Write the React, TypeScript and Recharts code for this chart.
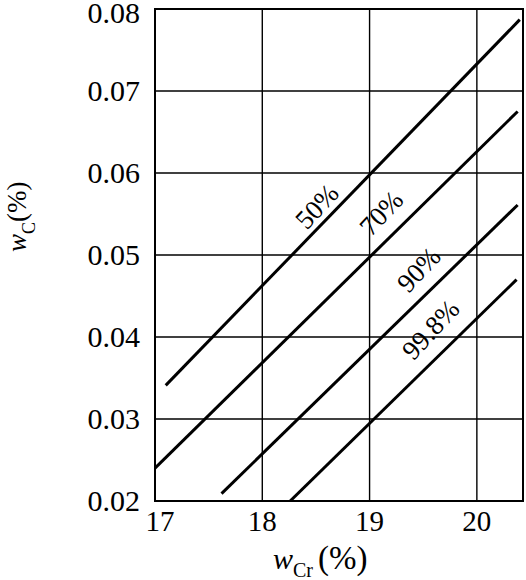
import { LineChart, Line, XAxis, YAxis, CartesianGrid, ReferenceArea, ReferenceDot } from "recharts";

const xTicks = [17, 18, 19, 20];
const yTicks = [0.02, 0.03, 0.04, 0.05, 0.06, 0.07, 0.08];

// each curve: start and end point (w_Cr %, w_C %)
const curve50 = [
  { x: 17.1, y: 0.0341 },
  { x: 20.4, y: 0.0787 },
];
const curve70 = [
  { x: 17.0, y: 0.024 },
  { x: 20.38, y: 0.0675 },
];
const curve90 = [
  { x: 17.62, y: 0.0209 },
  { x: 20.38, y: 0.0561 },
];
const curve998 = [
  { x: 18.26, y: 0.02 },
  { x: 20.37, y: 0.047 },
];

const curveNames = ["50%", "70%", "90%", "99.8%"];
const labelX = [18.51, 19.11, 19.46, 19.57];
const labelY = [0.0559, 0.0551, 0.0482, 0.0409];

const FAMILY = "'Liberation Serif', 'Times New Roman', 'DejaVu Serif', serif";
const font = (size: number, italic = false) => ({
  fontFamily: FAMILY,
  fontSize: `${size}px`,
  fontStyle: italic ? "italic" : "normal",
});

const XTick = (props: any) => {
  const { x, y, payload } = props;
  const shift = payload.value === 17 ? 5 : 0;
  return (
    <text x={x + shift} y={y} dy={22} textAnchor="middle" style={font(29)} fill="#000">
      {payload.value}
    </text>
  );
};

const YTick = (props: any) => {
  const { x, y, payload } = props;
  // keep the top label just inside the picture
  const dy = payload.value >= 0.08 ? 14 : 10;
  return (
    <text x={x + 1} y={y} dy={dy} textAnchor="end" style={font(30)} fill="#000">
      {Number(payload.value).toFixed(2)}
    </text>
  );
};

const CurveLabel = (text: string) => (props: any) => {
  const { cx, cy } = props;
  return (
    <text
      x={cx}
      y={cy}
      dy={9}
      textAnchor="middle"
      style={font(27)}
      fill="#000"
      transform={`rotate(-47 ${cx} ${cy})`}
    >
      {text}
    </text>
  );
};

export default function App() {
  const curves = [curve50, curve70, curve90, curve998];
  return (
    <div style={{ position: "absolute", left: 0, top: 0, background: "#fff" }}>
      <LineChart width={526} height={580} margin={{ top: 9, right: 3, left: 0, bottom: 0 }}>
        <CartesianGrid stroke="#000" strokeWidth={1.4} />
        <XAxis
          type="number"
          dataKey="x"
          domain={[17, 20.43]}
          ticks={xTicks}
          allowDataOverflow
          height={79}
          tickLine={false}
          axisLine={false}
          tick={<XTick />}
          label={{
            content: () => (
              <text x={273} y={569} fill="#000" style={font(30)}>
                <tspan style={font(30, true)}>w</tspan>
                <tspan style={font(20)} dy={8}>Cr</tspan>
                <tspan style={font(33)} dy={-8} dx={5}>(%)</tspan>
              </text>
            ),
          }}
        />
        <YAxis
          type="number"
          dataKey="y"
          domain={[0.02, 0.08]}
          ticks={yTicks}
          allowDataOverflow
          width={155}
          tickLine={false}
          axisLine={false}
          tickMargin={10}
          tick={<YTick />}
          label={{
            content: () => (
              <text x={26} y={252} fill="#000" style={font(27)} transform="rotate(-90 26 252)">
                <tspan style={font(27, true)}>w</tspan>
                <tspan style={font(18)} dy={9}>C</tspan>
                <tspan style={font(27)} dy={-9}>(%)</tspan>
              </text>
            ),
          }}
        />
        <ReferenceArea x1={17} x2={20.43} y1={0.02} y2={0.08} fill="none" stroke="#000" strokeWidth={2} />
        {curves.map((c, i) => (
          <Line
            key={curveNames[i]}
            data={c}
            dataKey="y"
            type="linear"
            stroke="#000"
            strokeWidth={3}
            dot={false}
            activeDot={false}
            isAnimationActive={false}
          />
        ))}
        {curveNames.map((n, i) => (
          <ReferenceDot key={n} x={labelX[i]} y={labelY[i]} r={1} shape={CurveLabel(n)} />
        ))}
      </LineChart>
    </div>
  );
}
